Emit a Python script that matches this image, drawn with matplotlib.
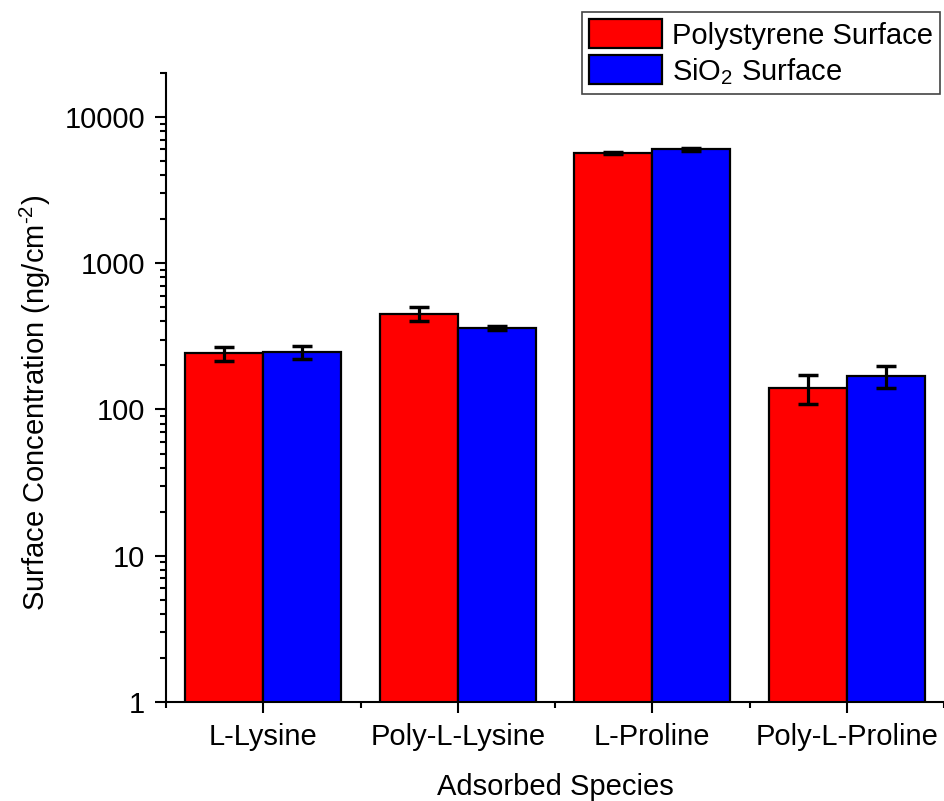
import matplotlib
matplotlib.use("Agg")
import matplotlib.pyplot as plt
import numpy as np
from matplotlib.ticker import LogLocator, FixedLocator, NullFormatter, FixedFormatter

plt.rcParams['font.family'] = ['Liberation Sans', 'DejaVu Sans']
plt.rcParams['mathtext.fontset'] = 'custom'
plt.rcParams['mathtext.rm'] = 'Liberation Sans'
plt.rcParams['mathtext.it'] = 'Liberation Sans'
plt.rcParams['mathtext.bf'] = 'Liberation Sans'

categories = ["L-Lysine", "Poly-L-Lysine", "L-Proline", "Poly-L-Proline"]
series_names = ["Polystyrene Surface", r"SiO$_\mathregular{2}$ Surface"]
polystyrene = [242, 452, 5680, 140]
polystyrene_err = [26, 47, 80, 31]
sio2 = [246, 362, 6000, 170]
sio2_err = [25, 10, 140, 29]
y_ticks = [1, 10, 100, 1000, 10000]
y_tick_labels = ["1", "10", "100", "1000", "10000"]

fs = 21

fig = plt.figure(figsize=(9.45, 8.01), dpi=100)
ax = fig.add_axes([0.1757, 0.1236, 0.8233, 0.7853])

x = np.arange(len(categories))
w = 0.4
ekw = dict(elinewidth=2.3, capthick=2.5, capsize=7.5, ecolor='black')
b1 = ax.bar(x - w/2, polystyrene, w, yerr=polystyrene_err, color='#ff0000',
            edgecolor='black', linewidth=1.6, error_kw=ekw, label=series_names[0], zorder=2)
b2 = ax.bar(x + w/2, sio2, w, yerr=sio2_err, color='#0000ff',
            edgecolor='black', linewidth=1.6, error_kw=ekw, label=series_names[1], zorder=2)

ax.set_yscale('log')
ax.set_ylim(1, 20000)
ax.set_xlim(-0.5, len(categories) - 0.5)
ax.yaxis.set_major_locator(FixedLocator(y_ticks))
ax.yaxis.set_major_formatter(FixedFormatter(y_tick_labels))
ax.yaxis.set_minor_locator(LogLocator(base=10, subs=np.arange(2, 10)))
ax.yaxis.set_minor_formatter(NullFormatter())

ax.set_xticks(x)
ax.set_xticklabels(categories)
ax.set_xticks(np.arange(len(categories) + 1) - 0.5, minor=True)

for s in ['top', 'right']:
    ax.spines[s].set_visible(False)
for s in ['left', 'bottom']:
    ax.spines[s].set_linewidth(1.5)

ax.tick_params(axis='both', which='major', direction='out', length=8, width=1.5,
               labelsize=fs, pad=7)
ax.tick_params(axis='both', which='minor', direction='out', length=4.5, width=1.5)

ax.set_xlabel("Adsorbed Species", fontsize=fs, labelpad=16)
ax.set_ylabel(r"Surface Concentration (ng/cm$^{\mathregular{\text{-2}}}$)", fontsize=fs, labelpad=6)
ax.yaxis.set_label_coords(-0.145, 0.475)

leg = fig.legend(handles=[b1, b2], labels=series_names, loc='upper right',
                 bbox_to_anchor=(0.995, 0.985), fontsize=fs, frameon=True,
                 fancybox=False, edgecolor='#444444', framealpha=1,
                 handlelength=2.5, handleheight=1.15, handletextpad=0.35,
                 labelspacing=0.2, borderpad=0.25, borderaxespad=0)
leg.get_frame().set_linewidth(1.2)

fig.savefig("out.png", dpi=100)
